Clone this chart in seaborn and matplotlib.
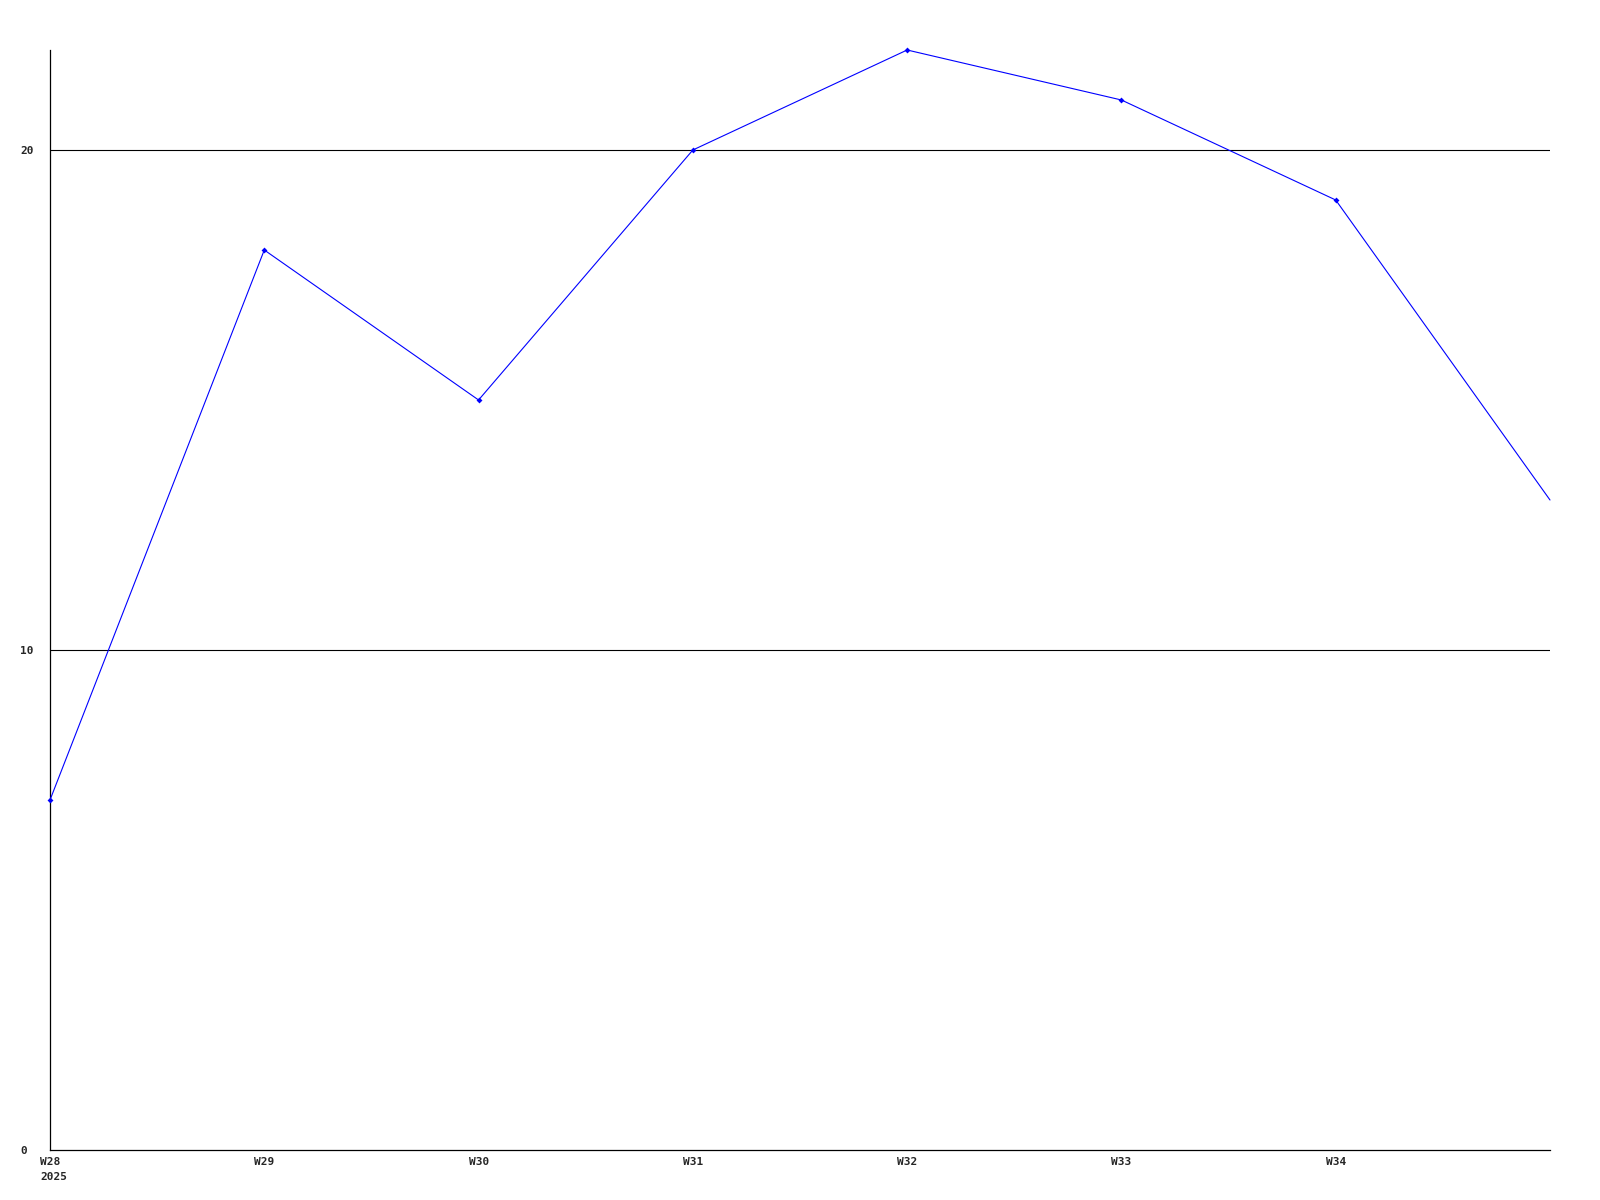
import matplotlib
matplotlib.use("Agg")
import matplotlib.pyplot as plt
import matplotlib.transforms as mtransforms
import pandas as pd
import seaborn as sns

# data
weeks = [0, 1, 2, 3, 4, 5, 6, 7]
values = [7, 18, 15, 20, 22, 21, 19, 13]
tick_labels = ["W28\n2025", "W29", "W30", "W31", "W32", "W33", "W34"]
y_ticks = [0, 10, 20]

df = pd.DataFrame({"week": weeks, "value": values})

sns.set_style("white")
plt.rcParams["font.family"] = ["DejaVu Sans Mono"]

fig = plt.figure(figsize=(16, 12), dpi=100)
ax = fig.add_axes([50 / 1600, 50 / 1200, 1500 / 1600, 1100 / 1200])

for y in y_ticks[1:]:
    ax.axhline(y, color="black", linewidth=0.8, zorder=1)

sns.lineplot(data=df, x="week", y="value", ax=ax, color="#0000ff",
             linewidth=0.8, marker="D", markersize=3, markevery=list(range(7)),
             markeredgewidth=0, zorder=3, clip_on=False)

ax.set_xlim(0, 7)
ax.set_ylim(0, 22)
ax.set_xticks(weeks[:7])
ax.set_xticklabels(tick_labels, fontsize=8, fontweight="bold", ha="left",
                   va="top", linespacing=1.6)
ax.set_yticks(y_ticks)
ax.set_yticklabels([str(v) for v in y_ticks], fontsize=8, fontweight="bold",
                   ha="left")
ax.tick_params(axis="both", length=0, pad=0)

# shift tick labels like the original (left aligned, slightly left of tick)
dx = mtransforms.ScaledTranslation(-10 / 100, -7 / 100, fig.dpi_scale_trans)
for lbl in ax.get_xticklabels():
    lbl.set_transform(lbl.get_transform() + dx)
dy = mtransforms.ScaledTranslation(-30 / 100, 0, fig.dpi_scale_trans)
for lbl in ax.get_yticklabels():
    lbl.set_transform(lbl.get_transform() + dy)

ax.set_xlabel("")
ax.set_ylabel("")
for side in ["top", "right"]:
    ax.spines[side].set_visible(False)
for side in ["left", "bottom"]:
    ax.spines[side].set_color("black")
    ax.spines[side].set_linewidth(0.9)

fig.savefig("out.png", dpi=100, facecolor="white")
